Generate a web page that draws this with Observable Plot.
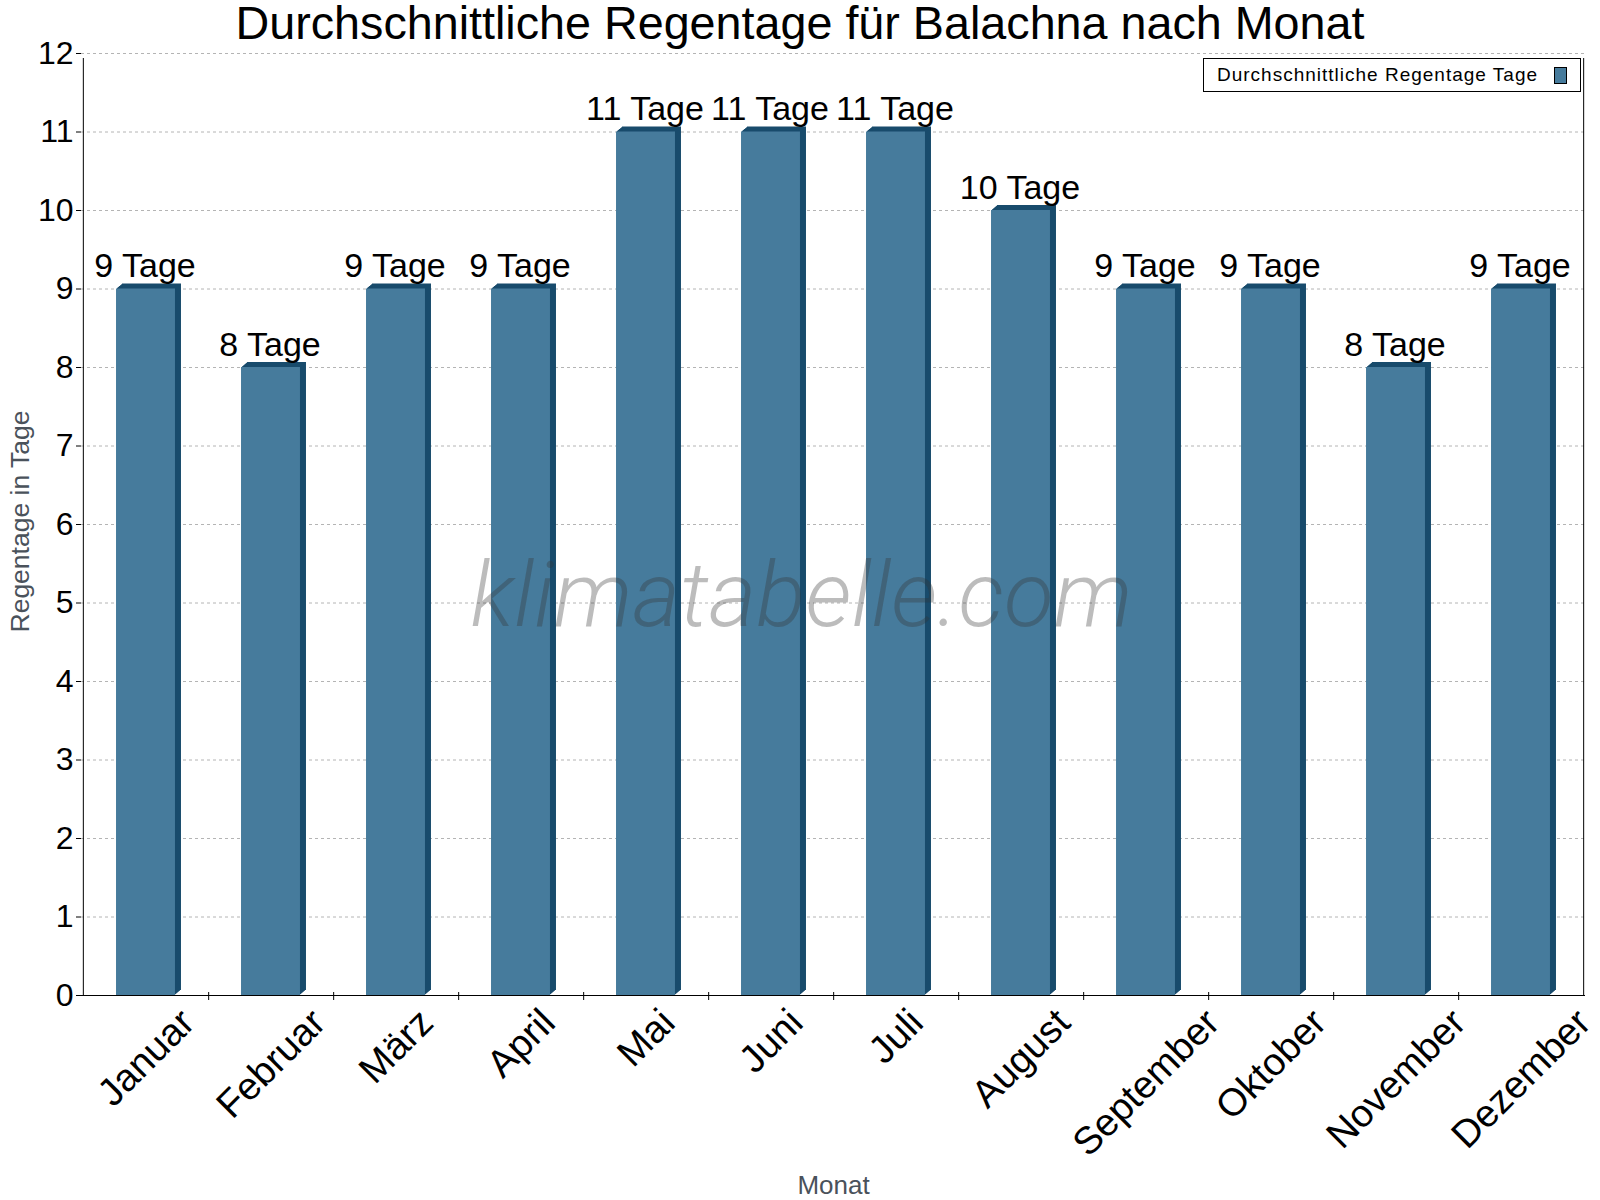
<!DOCTYPE html>
<html>
<head>
<meta charset="utf-8">
<script src="https://cdn.jsdelivr.net/npm/d3@7"></script>
<script src="https://cdn.jsdelivr.net/npm/@observablehq/plot@0.6"></script>
<style>
  body { margin: 0; background: #fff; }
  #wrap { position: relative; width: 1600px; height: 1200px; font-family: "Liberation Sans", Arial, sans-serif; }
  #title { position: absolute; left: 0; top: 0; width: 1600px; text-align: center; font-size: 46.7px; line-height: 46px; color: #000; }
  #legend { position: absolute; left: 1203px; top: 58px; width: 376px; height: 32px; border: 1px solid #000; background: #fff; }
  #legend .lbl { position: absolute; left: 13px; top: 6px; font-size: 19px; line-height: 19px; letter-spacing: 1px; color: #000; white-space: nowrap; }
  #legend .sw { position: absolute; left: 350px; top: 8px; width: 11px; height: 15px; border: 1px solid #000; background: #467b9c; }
  #chart { position: absolute; left: 0; top: 0; }
</style>
</head>
<body>
<div id="wrap">
  <div id="chart"></div>
  <div id="title">Durchschnittliche Regentage für Balachna nach Monat</div>
  <div id="legend"><span class="lbl">Durchschnittliche Regentage Tage</span><span class="sw"></span></div>
</div>
<script>
// Monthly average number of rain days
const months = ["Januar", "Februar", "März", "April", "Mai", "Juni", "Juli", "August", "September", "Oktober", "November", "Dezember"];
const rainDays = [9, 8, 9, 9, 11, 11, 11, 10, 9, 9, 8, 9];
const unit = "Tage";
const yTicks = [0, 1, 2, 3, 4, 5, 6, 7, 8, 9, 10, 11, 12];

const data = months.map((month, i) => ({month, days: rainDays[i]}));

// Frame geometry
const W = 1600, H = 1200;
const mL = 81, mR = 15, mT = 53, mB = 205;
const band = (W - mL - mR) / months.length;
const faceWidth = band * 0.473;
const inset = (band - faceWidth) / 2;

const frontColor = "#467b9c";
const sideColor = "#184b6c";
const labelFont = "Liberation Sans";
const monthFontSize = 38.5;

// Oblique extrusion: the dark bar is stacked at growing offsets up and to the right
const depthX = 6, depthY = 5;
const depthLayers = d3.range(1, depthX + 1).map(k =>
  Plot.barY(data, {x: "month", y: "days", fill: sideColor, insetLeft: inset, insetRight: inset,
                   dx: k, dy: -k * depthY / depthX})
);

// Rotated month labels hang from a common top line and are centred on their band
const ctx = document.createElement("canvas").getContext("2d");
ctx.font = `${monthFontSize}px "${labelFont}"`;
const monthLabels = months.map(m => {
  const w = ctx.measureText(m).width;
  const dy = 10 + Math.SQRT1_2 * (w / 2 + 0.716 * monthFontSize);
  return Plot.text([m], {x: d => d, frameAnchor: "bottom", rotate: -45, textAnchor: "middle",
                         lineAnchor: "bottom", dx: 9, dy, fontSize: monthFontSize, fontFamily: labelFont, fill: "#000"});
});

const chart = Plot.plot({
  width: W,
  height: H,
  marginLeft: mL,
  marginRight: mR,
  marginTop: mT,
  marginBottom: mB,
  style: `font-family: '${labelFont}', Arial, sans-serif; font-size: 32px; background: #fff; overflow: visible;`,
  x: {type: "band", domain: months, padding: 0, axis: null},
  y: {domain: [0, 12], axis: null},
  marks: [
    Plot.gridY({ticks: yTicks, stroke: "#b4b4b4", strokeOpacity: 1, strokeDasharray: "3,3"}),
    ...depthLayers,
    Plot.barY(data, {x: "month", y: "days", fill: frontColor, insetLeft: inset, insetRight: inset}),
    // value labels
    Plot.text(data, {x: "month", y: "days", text: d => `${d.days} ${unit}`, dx: -1, dy: -12, lineAnchor: "bottom",
                     fontSize: 34, fontFamily: labelFont, fill: "#000"}),
    // frame: left axis line, right border, baseline and band-boundary ticks
    Plot.ruleX([months[0]], {x: d => d, dx: -band / 2, y1: 0, y2: 12, insetBottom: -5, stroke: "#000"}),
    Plot.ruleX([months[months.length - 1]], {x: d => d, dx: band / 2, y1: 0, y2: 12, insetBottom: -5, stroke: "#000"}),
    Plot.ruleX(months.slice(0, -1), {x: d => d, dx: band / 2, y1: 0, y2: 0, insetTop: -3, insetBottom: -5, stroke: "#000"}),
    Plot.ruleY([0], {stroke: "#000"}),
    Plot.axisY({ticks: yTicks, tickSize: 5, tickPadding: 3, fontSize: 32, fontFamily: labelFont, label: null,
                tickFormat: d => String(d)}),
    ...monthLabels,
    // axis titles
    Plot.text(["Regentage in Tage"], {frameAnchor: "left", rotate: -90, dx: -53, dy: -3, lineAnchor: "bottom",
                                      textAnchor: "middle", fontSize: 26.5, fontFamily: labelFont, fill: "#4a525b"}),
    Plot.text(["Monat"], {frameAnchor: "bottom", dy: 198, lineAnchor: "bottom", fontSize: 26, fontFamily: labelFont,
                          fill: "#4a525b"}),
    // site watermark
    Plot.text(["klimatabelle.com"], {frameAnchor: "middle", dx: -32, dy: 101, lineAnchor: "bottom",
                                     fontSize: 91.5, fontFamily: "Roboto", fontStyle: "italic", fontWeight: 300,
                                     fill: "#333", fillOpacity: 0.33})
  ]
});

document.getElementById("chart").appendChild(chart);
</script>
</body>
</html>
